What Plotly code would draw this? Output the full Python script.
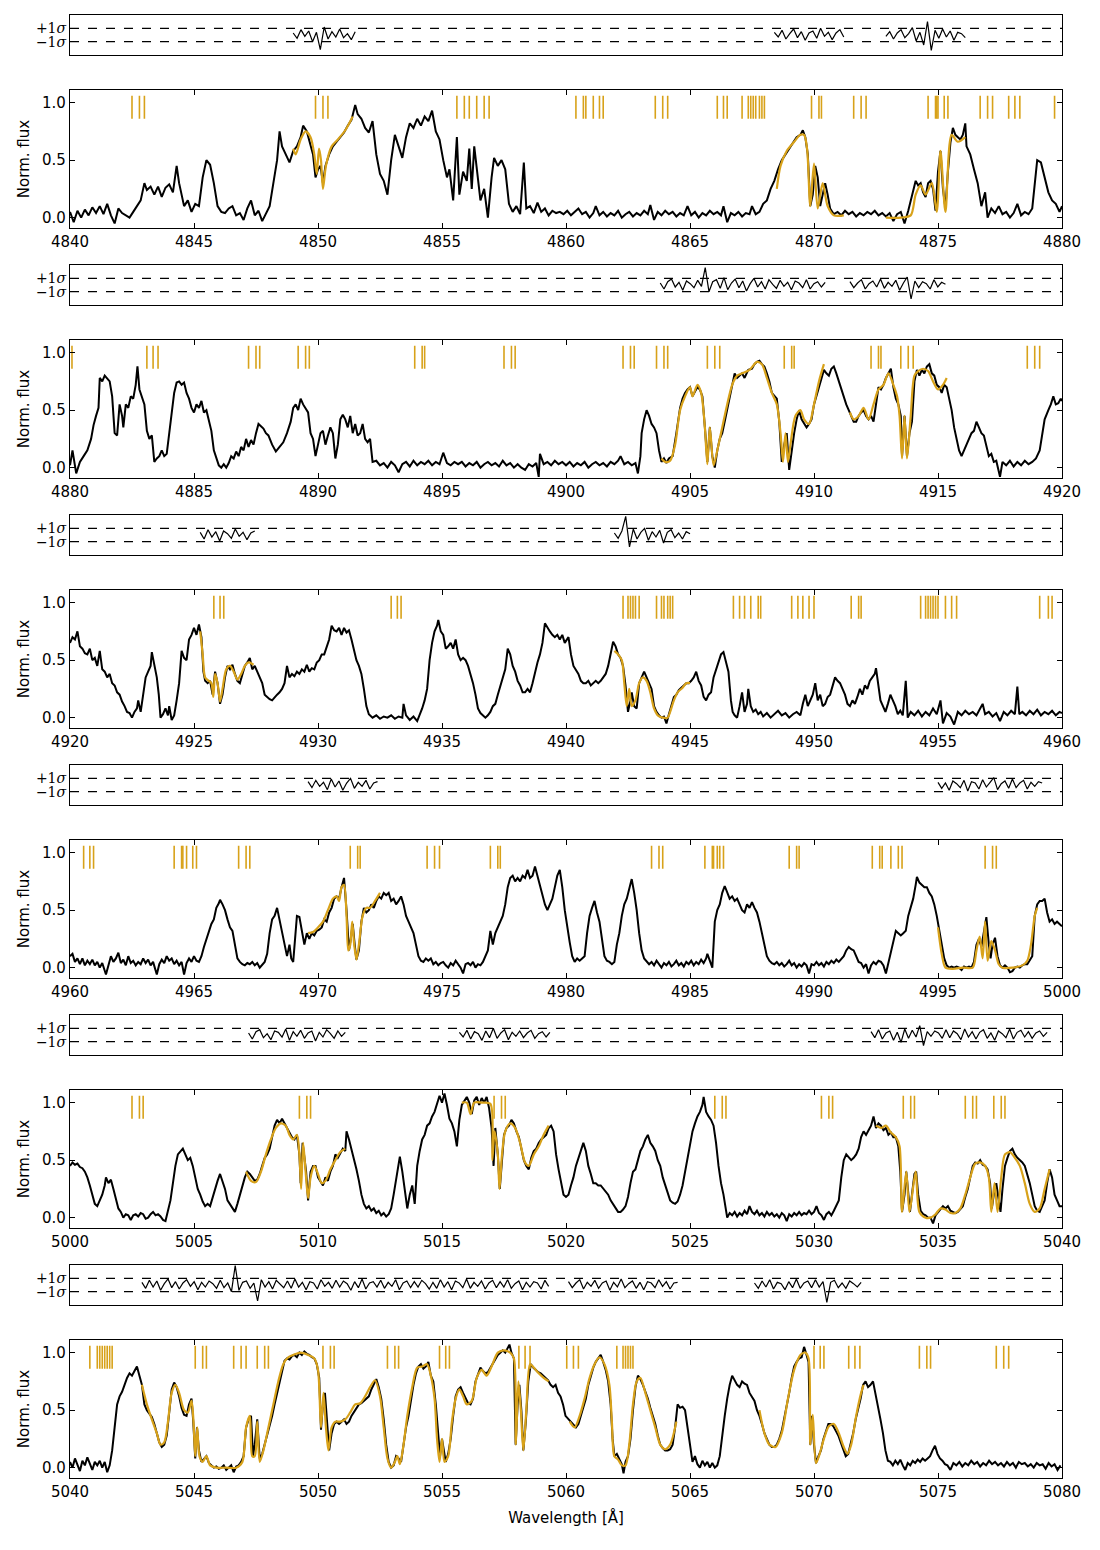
import plotly.graph_objects as go

# ---------------- DATA ----------------
panel_starts = [4840, 4880, 4920, 4960, 5000, 5040]
flux_ticks = [0.0, 0.5, 1.0]

spec_p1 = [(4840.0,0.05),(4840.15,-0.04),(4840.3,0.06),(4840.45,0.0),(4840.6,0.07),(4840.75,0.02),(4840.9,0.09),(4841.05,0.04),(4841.2,0.1),(4841.35,0.03),(4841.5,0.12),(4841.65,0.02),(4841.8,-0.05),(4841.95,0.08),(4842.1,0.04),(4842.25,0.02),(4842.4,0.0),(4842.55,0.05),(4842.7,0.1),(4842.85,0.15),(4843.0,0.3),(4843.1,0.24),(4843.25,0.27),(4843.4,0.2),(4843.55,0.27),(4843.7,0.18),(4843.85,0.26),(4844.0,0.29),(4844.15,0.22),(4844.3,0.45),(4844.4,0.3),(4844.5,0.2),(4844.6,0.1),(4844.75,0.15),(4844.9,0.05),(4845.05,0.12),(4845.2,0.1),(4845.35,0.35),(4845.5,0.5),(4845.65,0.46),(4845.8,0.3),(4845.95,0.1),(4846.1,0.05),(4846.25,0.04),(4846.4,0.08),(4846.55,0.1),(4846.7,0.02),(4846.85,0.04),(4847.0,-0.02),(4847.15,0.08),(4847.3,0.15),(4847.45,0.02),(4847.6,0.06),(4847.75,-0.03),(4847.9,0.04),(4848.05,0.1),(4848.2,0.3),(4848.35,0.5),(4848.45,0.75),(4848.55,0.62),(4848.7,0.55),(4848.85,0.48),(4849.0,0.58),(4849.15,0.62),(4849.3,0.7),(4849.4,0.8),(4849.55,0.75),(4849.7,0.62),(4849.8,0.55),(4849.9,0.35),(4850.0,0.42),(4850.1,0.45),(4850.2,0.3),(4850.3,0.45),(4850.45,0.55),(4850.6,0.62),(4850.75,0.66),(4850.9,0.7),(4851.05,0.74),(4851.2,0.8),(4851.35,0.85),(4851.5,0.98),(4851.6,0.9),(4851.75,0.86),(4851.9,0.78),(4852.05,0.74),(4852.2,0.84),(4852.35,0.55),(4852.5,0.38),(4852.65,0.32),(4852.8,0.2),(4852.95,0.5),(4853.1,0.72),(4853.25,0.62),(4853.4,0.52),(4853.55,0.7),(4853.7,0.82),(4853.85,0.78),(4854.0,0.86),(4854.15,0.8),(4854.3,0.88),(4854.45,0.84),(4854.6,0.93),(4854.75,0.75),(4854.9,0.68),(4855.05,0.5),(4855.2,0.35),(4855.3,0.42),(4855.45,0.15),(4855.6,0.7),(4855.7,0.2),(4855.85,0.4),(4856.0,0.32),(4856.1,0.6),(4856.2,0.25),(4856.3,0.62),(4856.45,0.3),(4856.55,0.15),(4856.7,0.25),(4856.85,0.0),(4857.0,0.35),(4857.1,0.52),(4857.25,0.45),(4857.4,0.5),(4857.55,0.42),(4857.7,0.12),(4857.85,0.05),(4858.0,0.1),(4858.15,0.03),(4858.3,0.48),(4858.4,0.08),(4858.55,0.1),(4858.7,0.04),(4858.85,0.13),(4859.0,0.05),(4859.15,0.08),(4859.3,0.02),(4859.45,0.06),(4859.6,0.04),(4859.75,0.05),(4859.9,0.03),
(4860.05,0.06),(4860.2,0.02),(4860.35,0.05),(4860.5,0.08),(4860.65,0.03),(4860.8,0.05),(4860.95,0.0),(4861.1,0.04),(4861.2,0.1),(4861.35,0.02),(4861.5,0.05),(4861.65,0.01),(4861.8,0.04),(4861.95,0.02),(4862.1,0.06),(4862.25,0.0),(4862.4,0.03),(4862.55,0.05),(4862.7,0.01),(4862.85,0.04),(4863.0,0.02),(4863.15,0.06),(4863.3,0.03),(4863.4,0.11),(4863.55,-0.02),(4863.7,0.05),(4863.85,0.02),(4864.0,0.06),(4864.15,0.03),(4864.3,0.05),(4864.45,0.01),(4864.6,0.04),(4864.75,0.02),(4864.9,0.1),(4865.05,0.02),(4865.2,0.05),(4865.35,0.0),(4865.5,0.04),(4865.65,0.02),(4865.8,0.06),(4865.95,0.03),(4866.1,0.05),(4866.25,0.02),(4866.35,0.1),(4866.5,-0.04),(4866.65,0.04),(4866.8,0.02),(4866.95,0.05),(4867.1,0.01),(4867.25,0.04),(4867.4,0.03),(4867.5,0.1),(4867.65,0.03),(4867.8,0.05),(4867.95,0.12),(4868.1,0.15),(4868.25,0.25),(4868.4,0.32),(4868.55,0.42),(4868.7,0.5),(4868.85,0.55),(4869.0,0.6),(4869.15,0.64),(4869.3,0.7),(4869.45,0.72),(4869.55,0.76),(4869.65,0.7),(4869.75,0.55),(4869.85,0.1),(4869.95,0.2),(4870.05,0.45),(4870.15,0.35),(4870.25,0.1),(4870.35,0.2),(4870.45,0.3),(4870.55,0.2),(4870.65,0.08),(4870.8,0.03),(4870.95,0.05),(4871.1,0.02),(4871.25,0.06),(4871.4,0.03),(4871.55,0.05),(4871.7,0.01),(4871.85,0.04),(4872.0,0.02),(4872.15,0.05),(4872.3,0.03),(4872.45,0.06),(4872.6,0.02),(4872.75,0.04),(4872.9,0.01),(4873.05,0.04),(4873.2,-0.03),(4873.35,0.03),(4873.5,0.05),(4873.65,-0.05),(4873.8,0.06),(4873.9,0.15),(4874.0,0.25),(4874.1,0.32),(4874.2,0.28),(4874.3,0.3),(4874.4,0.22),(4874.5,0.18),(4874.6,0.3),(4874.7,0.32),(4874.8,0.25),(4874.9,0.06),(4875.0,0.4),(4875.1,0.58),(4875.2,0.25),(4875.3,0.08),(4875.4,0.4),(4875.5,0.65),(4875.6,0.78),(4875.7,0.72),(4875.8,0.7),(4875.9,0.68),(4876.0,0.72),(4876.1,0.82),(4876.15,0.62),(4876.3,0.55),(4876.45,0.42),(4876.6,0.3),(4876.75,0.1),(4876.9,0.22),(4877.0,0.0),(4877.15,0.08),(4877.3,0.04),(4877.45,0.1),(4877.6,0.03),(4877.75,0.05),(4877.9,0.0),(4878.05,0.04),(4878.2,0.12),(4878.35,0.02),(4878.5,0.05),(4878.65,0.03),(4878.8,0.08),(4878.9,0.3),(4879.0,0.5),(4879.15,0.48),(4879.3,0.35),(4879.45,0.22),(4879.6,0.15),(4879.75,0.12),(4879.9,0.05),(4880.0,0.1)]

spec_p2 = [(4880.0,0.02),(4880.1,0.15),(4880.25,-0.05),(4880.4,0.05),(4880.55,0.1),(4880.7,0.15),(4880.85,0.25),(4880.95,0.37),(4881.05,0.45),(4881.15,0.52),(4881.2,0.78),(4881.3,0.75),(4881.4,0.8),(4881.5,0.77),(4881.6,0.75),(4881.7,0.62),(4881.8,0.3),(4881.9,0.28),(4882.0,0.55),(4882.1,0.45),(4882.15,0.35),(4882.25,0.55),(4882.35,0.52),(4882.45,0.62),(4882.55,0.6),(4882.65,0.72),(4882.72,0.88),(4882.8,0.68),(4882.9,0.62),(4883.0,0.55),(4883.1,0.32),(4883.2,0.25),(4883.3,0.28),(4883.4,0.05),(4883.5,0.08),(4883.6,0.1),(4883.7,0.15),(4883.8,0.1),(4883.9,0.12),(4884.0,0.3),(4884.1,0.5),(4884.2,0.65),(4884.3,0.74),(4884.4,0.75),(4884.5,0.72),(4884.6,0.74),(4884.7,0.65),(4884.8,0.6),(4884.9,0.52),(4885.0,0.48),(4885.1,0.55),(4885.2,0.52),(4885.3,0.58),(4885.4,0.48),(4885.5,0.5),(4885.6,0.4),(4885.7,0.32),(4885.8,0.15),(4885.9,0.08),(4886.0,0.02),(4886.1,0.0),(4886.2,0.03),(4886.3,0.0),(4886.4,0.04),(4886.5,0.1),(4886.6,0.08),(4886.7,0.14),(4886.8,0.1),(4886.9,0.18),(4887.0,0.15),(4887.1,0.25),(4887.2,0.18),(4887.3,0.24),(4887.4,0.2),(4887.5,0.3),(4887.6,0.38),(4887.7,0.36),(4887.8,0.34),(4887.9,0.3),(4888.0,0.28),(4888.15,0.2),(4888.3,0.14),(4888.45,0.18),(4888.6,0.22),(4888.75,0.3),(4888.9,0.4),(4889.0,0.52),(4889.1,0.55),(4889.2,0.5),(4889.3,0.6),(4889.4,0.55),(4889.5,0.52),(4889.6,0.48),(4889.7,0.3),(4889.8,0.25),(4889.9,0.1),(4890.0,0.2),(4890.1,0.3),(4890.2,0.32),(4890.3,0.2),(4890.4,0.28),(4890.5,0.35),(4890.6,0.3),(4890.7,0.08),(4890.8,0.2),(4890.9,0.42),(4891.0,0.46),(4891.1,0.42),(4891.2,0.35),(4891.3,0.45),(4891.4,0.3),(4891.5,0.38),(4891.6,0.28),(4891.7,0.3),(4891.8,0.38),(4891.9,0.25),(4892.0,0.22),(4892.1,0.25),(4892.2,0.05),(4892.35,0.06),(4892.5,0.02),(4892.65,0.04),(4892.8,0.0),(4892.95,0.05),(4893.1,0.02),(4893.25,-0.04),(4893.4,0.03),(4893.55,0.05),(4893.7,0.01),(4893.85,0.06),(4894.0,0.02),(4894.15,0.05),(4894.3,0.03),(4894.45,0.06),(4894.6,0.02),(4894.75,0.05),(4894.9,0.03),(4895.05,0.13),(4895.2,0.04),(4895.35,0.02),(4895.5,0.05),(4895.65,0.03),(4895.8,0.05),(4895.95,0.01),(4896.1,0.04),(4896.25,0.02),(4896.4,0.05),(4896.55,0.0),(4896.7,0.03),(4896.85,0.05),(4897.0,0.02),(4897.15,0.04),(4897.3,0.01),(4897.45,0.06),(4897.6,0.02),(4897.75,0.04),(4897.9,0.0),(4898.05,0.03),(4898.2,0.0),(4898.35,-0.02),(4898.5,0.03),(4898.65,0.01),(4898.8,0.04),(4898.9,-0.08),(4898.95,0.12),(4899.1,0.03),(4899.25,0.05),(4899.4,0.02),(4899.55,0.06),(4899.7,0.03),(4899.85,0.05),(4900.0,0.02),(4900.15,0.05),(4900.3,0.01),(4900.45,0.04),(4900.6,0.02),(4900.75,0.05),(4900.9,0.0),(4901.05,0.03),(4901.2,0.05),(4901.35,0.02),(4901.5,0.04),(4901.65,0.01),(4901.8,0.05),(4901.95,0.03),(4902.1,0.06),(4902.2,0.1),(4902.35,0.03),(4902.5,0.05),(4902.65,0.02),(4902.8,0.04),(4902.9,-0.05),(4903.0,0.1),(4903.05,0.3),(4903.15,0.42),(4903.25,0.5),(4903.35,0.45),(4903.45,0.38),(4903.55,0.35),(4903.65,0.3),(4903.75,0.15),(4903.85,0.05),(4903.95,0.08),(4904.05,0.04),(4904.15,0.08),(4904.3,0.1),(4904.45,0.3),(4904.6,0.52),(4904.7,0.6),(4904.8,0.65),(4904.9,0.68),(4905.0,0.7),(4905.1,0.62),(4905.2,0.66),(4905.3,0.7),(4905.4,0.68),(4905.5,0.62),(4905.6,0.35),(4905.7,0.05),(4905.8,0.35),(4905.9,0.1),(4906.0,0.0),(4906.1,0.15),(4906.2,0.25),(4906.3,0.3),(4906.4,0.4),(4906.5,0.5),(4906.6,0.6),(4906.7,0.72),(4906.8,0.82),(4906.9,0.78),(4907.0,0.8),(4907.1,0.82),(4907.2,0.78),(4907.35,0.85),(4907.5,0.86),(4907.6,0.9),(4907.7,0.92),(4907.8,0.93),(4907.9,0.9),(4908.0,0.88),(4908.1,0.82),(4908.2,0.75),(4908.3,0.65),(4908.4,0.62),(4908.5,0.6),(4908.6,0.4),(4908.7,0.05),(4908.8,0.2),(4908.9,0.3),(4909.0,-0.02),(4909.1,0.15),(4909.2,0.3),(4909.3,0.42),(4909.4,0.5),(4909.5,0.42),(4909.6,0.38),(4909.7,0.35),(4909.8,0.38),(4909.9,0.42),(4910.0,0.55),(4910.1,0.62),(4910.2,0.7),(4910.3,0.78),(4910.4,0.85),(4910.5,0.82),(4910.6,0.8),(4910.7,0.86),(4910.8,0.88),(4910.9,0.82),(4911.0,0.75),(4911.1,0.7),(4911.2,0.62),(4911.3,0.55),(4911.4,0.5),(4911.5,0.45),(4911.6,0.4),(4911.7,0.4),(4911.8,0.45),(4911.9,0.48),(4912.0,0.5),(4912.1,0.45),(4912.2,0.42),(4912.3,0.45),(4912.4,0.4),(4912.5,0.55),(4912.6,0.7),(4912.7,0.68),(4912.8,0.72),(4912.9,0.78),(4913.0,0.82),(4913.1,0.86),(4913.2,0.7),(4913.3,0.6),(4913.4,0.55),(4913.5,0.45),(4913.55,0.1),(4913.65,0.45),(4913.75,0.1),(4913.85,0.3),(4913.95,0.4),(4914.05,0.75),(4914.15,0.85),(4914.25,0.8),(4914.35,0.85),(4914.45,0.82),(4914.55,0.88),(4914.65,0.9),(4914.75,0.82),(4914.85,0.8),(4914.95,0.72),(4915.05,0.7),(4915.15,0.65),(4915.25,0.72),(4915.35,0.7),(4915.45,0.6),(4915.55,0.5),(4915.65,0.35),(4915.75,0.25),(4915.85,0.15),(4915.95,0.1),(4916.05,0.15),(4916.15,0.2),(4916.25,0.25),(4916.35,0.3),(4916.45,0.32),(4916.55,0.4),(4916.65,0.35),(4916.75,0.3),(4916.85,0.28),(4916.95,0.2),(4917.05,0.1),(4917.15,0.12),(4917.25,0.05),(4917.35,0.06),(4917.5,-0.08),(4917.6,0.05),(4917.75,0.02),(4917.9,0.06),(4918.05,0.01),(4918.2,0.05),(4918.35,0.02),(4918.5,0.06),(4918.65,0.03),(4918.8,0.05),(4918.95,0.08),(4919.1,0.15),(4919.2,0.3),(4919.3,0.42),(4919.45,0.5),(4919.55,0.55),(4919.65,0.62),(4919.75,0.55),(4919.85,0.56),(4919.95,0.6),(4920.0,0.58)]

spec_p3 = [(4920.0,0.65),(4920.1,0.7),(4920.2,0.68),(4920.3,0.75),(4920.4,0.62),(4920.5,0.6),(4920.6,0.56),(4920.7,0.55),(4920.8,0.6),(4920.9,0.5),(4921.0,0.52),(4921.1,0.45),(4921.2,0.58),(4921.3,0.42),(4921.4,0.4),(4921.5,0.35),(4921.6,0.38),(4921.7,0.3),(4921.8,0.28),(4921.9,0.22),(4922.0,0.2),(4922.1,0.14),(4922.2,0.1),(4922.3,0.05),(4922.4,0.04),(4922.5,0.0),(4922.6,0.05),(4922.7,0.08),(4922.75,0.15),(4922.85,0.05),(4922.95,0.2),(4923.05,0.35),(4923.15,0.4),(4923.25,0.45),(4923.3,0.57),(4923.4,0.45),(4923.5,0.35),(4923.58,0.2),(4923.65,0.0),(4923.75,0.03),(4923.85,0.08),(4923.95,0.02),(4924.0,0.1),(4924.1,-0.02),(4924.2,0.02),(4924.3,0.15),(4924.4,0.3),(4924.5,0.58),(4924.6,0.52),(4924.7,0.5),(4924.8,0.68),(4924.9,0.72),(4925.0,0.78),(4925.1,0.72),(4925.2,0.81),(4925.3,0.7),(4925.38,0.4),(4925.45,0.32),(4925.55,0.3),(4925.65,0.32),(4925.75,0.2),(4925.85,0.4),(4925.95,0.3),(4926.05,0.12),(4926.15,0.2),(4926.25,0.35),(4926.35,0.45),(4926.45,0.42),(4926.55,0.46),(4926.65,0.38),(4926.75,0.32),(4926.85,0.3),(4926.95,0.38),(4927.05,0.45),(4927.15,0.48),(4927.25,0.52),(4927.35,0.42),(4927.45,0.45),(4927.55,0.4),(4927.65,0.35),(4927.75,0.3),(4927.85,0.2),(4927.95,0.18),(4928.05,0.16),(4928.15,0.15),(4928.25,0.18),(4928.35,0.2),(4928.45,0.22),(4928.55,0.25),(4928.65,0.3),(4928.75,0.45),(4928.85,0.35),(4928.95,0.38),(4929.05,0.36),(4929.15,0.4),(4929.25,0.38),(4929.35,0.42),(4929.45,0.4),(4929.55,0.46),(4929.65,0.4),(4929.75,0.43),(4929.85,0.42),(4929.95,0.48),(4930.05,0.5),(4930.15,0.55),(4930.25,0.55),(4930.35,0.62),(4930.45,0.68),(4930.55,0.8),(4930.65,0.76),(4930.75,0.75),(4930.85,0.78),(4930.95,0.72),(4931.05,0.78),(4931.15,0.74),(4931.25,0.76),(4931.35,0.68),(4931.45,0.58),(4931.55,0.5),(4931.65,0.45),(4931.75,0.38),(4931.85,0.25),(4931.95,0.1),(4932.05,0.03),(4932.2,0.0),(4932.35,0.02),(4932.5,-0.01),(4932.65,0.01),(4932.8,0.0),(4932.95,0.02),(4933.1,-0.01),(4933.25,0.01),(4933.4,0.0),(4933.45,0.12),(4933.55,0.02),(4933.7,-0.02),(4933.85,0.01),(4934.0,-0.03),(4934.1,0.02),(4934.2,0.08),(4934.3,0.15),(4934.4,0.25),(4934.5,0.5),(4934.6,0.65),(4934.7,0.75),(4934.8,0.8),(4934.85,0.85),(4934.95,0.75),(4935.05,0.72),(4935.15,0.6),(4935.25,0.62),(4935.35,0.65),(4935.45,0.6),(4935.55,0.68),(4935.65,0.55),(4935.75,0.5),(4935.85,0.52),(4935.95,0.5),(4936.05,0.45),(4936.15,0.38),(4936.25,0.3),(4936.35,0.2),(4936.45,0.08),(4936.55,0.04),(4936.65,0.02),(4936.75,0.0),(4936.85,0.02),(4936.95,0.05),(4937.05,0.1),(4937.15,0.12),(4937.25,0.2),(4937.35,0.28),(4937.45,0.35),(4937.55,0.42),(4937.65,0.6),(4937.75,0.55),(4937.85,0.45),(4937.95,0.4),(4938.05,0.32),(4938.15,0.28),(4938.25,0.22),(4938.35,0.22),(4938.45,0.25),(4938.55,0.22),(4938.65,0.3),(4938.75,0.4),(4938.85,0.48),(4938.95,0.55),(4939.05,0.65),(4939.15,0.82),(4939.25,0.78),(4939.35,0.75),(4939.45,0.72),(4939.55,0.7),(4939.65,0.72),(4939.75,0.68),(4939.85,0.72),(4939.95,0.65),(4940.1,0.7),(4940.2,0.55),(4940.3,0.45),(4940.4,0.42),(4940.5,0.38),(4940.6,0.32),(4940.7,0.3),(4940.8,0.3),(4940.9,0.32),(4941.0,0.28),(4941.1,0.3),(4941.2,0.32),(4941.3,0.3),(4941.4,0.32),(4941.5,0.35),(4941.6,0.38),(4941.7,0.45),(4941.8,0.55),(4941.9,0.66),(4942.0,0.62),(4942.1,0.55),(4942.2,0.52),(4942.3,0.45),(4942.4,0.28),(4942.5,0.05),(4942.6,0.15),(4942.65,0.22),(4942.75,0.1),(4942.85,0.08),(4942.95,0.3),(4943.05,0.35),(4943.15,0.4),(4943.25,0.35),(4943.35,0.3),(4943.45,0.25),(4943.55,0.1),(4943.65,0.05),(4943.75,0.02),(4943.85,0.0),(4943.95,0.01),(4944.05,-0.05),(4944.15,0.03),(4944.25,0.1),(4944.35,0.18),(4944.45,0.2),(4944.55,0.24),(4944.65,0.26),(4944.75,0.28),(4944.85,0.3),(4944.95,0.3),(4945.05,0.32),(4945.15,0.35),(4945.25,0.4),(4945.35,0.32),(4945.45,0.28),(4945.55,0.18),(4945.65,0.15),(4945.75,0.2),(4945.85,0.22),(4945.95,0.35),(4946.05,0.42),(4946.15,0.5),(4946.25,0.55),(4946.35,0.57),(4946.45,0.48),(4946.55,0.4),(4946.65,0.15),(4946.72,0.05),(4946.8,0.02),(4946.9,0.0),(4947.0,0.1),(4947.1,0.22),(4947.2,0.05),(4947.3,0.12),(4947.35,0.25),(4947.45,0.1),(4947.55,0.05),(4947.65,0.07),(4947.75,0.03),(4947.85,0.05),(4947.95,0.01),(4948.1,0.04),(4948.25,0.0),(4948.4,0.03),(4948.55,0.06),(4948.7,0.02),(4948.85,0.04),(4949.0,0.0),(4949.15,0.03),(4949.3,0.05),(4949.45,0.02),(4949.55,0.12),(4949.65,0.2),(4949.75,0.1),(4949.85,0.15),(4949.95,0.2),(4950.05,0.3),(4950.15,0.15),(4950.25,0.2),(4950.35,0.1),(4950.45,0.12),(4950.55,0.18),(4950.65,0.2),(4950.75,0.28),(4950.85,0.35),(4950.95,0.32),(4951.05,0.3),(4951.15,0.25),(4951.25,0.2),(4951.35,0.12),(4951.45,0.1),(4951.55,0.15),(4951.65,0.12),(4951.75,0.18),(4951.85,0.25),(4951.95,0.2),(4952.05,0.28),(4952.15,0.25),(4952.25,0.32),(4952.35,0.35),(4952.45,0.38),(4952.5,0.43),(4952.6,0.25),(4952.68,0.15),(4952.78,0.1),(4952.88,0.05),(4952.98,0.12),(4953.08,0.2),(4953.18,0.15),(4953.28,0.1),(4953.38,0.03),(4953.48,0.06),(4953.58,0.02),(4953.7,0.32),(4953.78,0.0),(4953.9,0.05),(4954.05,0.02),(4954.2,0.06),(4954.35,0.01),(4954.5,0.05),(4954.65,0.02),(4954.8,0.08),(4954.95,0.03),(4955.1,0.15),(4955.2,-0.05),(4955.35,0.04),(4955.5,0.01),(4955.65,-0.06),(4955.8,0.05),(4955.95,0.02),(4956.1,0.06),(4956.25,0.03),(4956.4,0.05),(4956.55,0.02),(4956.7,0.08),(4956.8,0.12),(4956.9,0.03),(4957.05,0.05),(4957.2,0.01),(4957.35,0.04),(4957.5,-0.03),(4957.65,0.05),(4957.8,0.02),(4957.95,0.06),(4958.1,0.03),(4958.2,0.27),(4958.28,0.03),(4958.4,0.05),(4958.55,0.02),(4958.7,0.06),(4958.85,0.03),(4959.0,0.07),(4959.15,0.02),(4959.3,0.05),(4959.45,0.03),(4959.6,0.06),(4959.75,0.02),(4959.9,0.05),(4960.0,0.04)]

spec_p4 = [(4960.0,0.1),(4960.1,0.12),(4960.2,0.05),(4960.3,0.08),(4960.4,0.03),(4960.5,0.08),(4960.6,0.02),(4960.7,0.06),(4960.8,0.03),(4960.9,0.07),(4961.0,0.02),(4961.1,0.05),(4961.2,0.0),(4961.3,0.04),(4961.45,-0.06),(4961.55,0.03),(4961.65,0.1),(4961.75,0.05),(4961.85,0.08),(4961.95,0.13),(4962.05,0.04),(4962.15,0.07),(4962.25,0.02),(4962.35,0.1),(4962.45,0.04),(4962.55,0.06),(4962.65,0.02),(4962.75,0.05),(4962.85,0.03),(4962.95,0.08),(4963.05,0.04),(4963.15,0.07),(4963.25,0.02),(4963.35,0.05),(4963.5,-0.06),(4963.6,0.03),(4963.7,0.07),(4963.8,0.04),(4963.9,0.1),(4964.0,0.06),(4964.1,0.08),(4964.2,0.03),(4964.3,0.06),(4964.4,0.02),(4964.5,0.05),(4964.6,-0.06),(4964.7,0.04),(4964.8,0.08),(4964.9,0.05),(4965.0,0.1),(4965.1,0.06),(4965.2,0.05),(4965.3,0.1),(4965.4,0.18),(4965.5,0.25),(4965.6,0.3),(4965.7,0.38),(4965.8,0.42),(4965.9,0.52),(4966.0,0.56),(4966.05,0.59),(4966.15,0.55),(4966.25,0.5),(4966.35,0.42),(4966.45,0.35),(4966.55,0.32),(4966.65,0.2),(4966.75,0.08),(4966.85,0.05),(4966.95,0.03),(4967.05,0.02),(4967.15,0.04),(4967.25,0.03),(4967.35,0.05),(4967.45,0.02),(4967.55,0.04),(4967.65,0.0),(4967.75,0.03),(4967.85,0.05),(4967.95,0.12),(4968.05,0.3),(4968.15,0.42),(4968.25,0.45),(4968.35,0.52),(4968.45,0.42),(4968.55,0.3),(4968.65,0.2),(4968.75,0.1),(4968.85,0.2),(4968.92,0.08),(4969.0,0.05),(4969.1,0.35),(4969.15,0.45),(4969.25,0.44),(4969.35,0.3),(4969.45,0.2),(4969.55,0.3),(4969.65,0.25),(4969.75,0.3),(4969.85,0.28),(4969.95,0.32),(4970.05,0.33),(4970.15,0.35),(4970.25,0.42),(4970.35,0.4),(4970.45,0.48),(4970.55,0.52),(4970.65,0.6),(4970.75,0.62),(4970.85,0.6),(4970.95,0.7),(4971.05,0.78),(4971.15,0.5),(4971.25,0.15),(4971.32,0.25),(4971.4,0.38),(4971.48,0.2),(4971.55,0.07),(4971.65,0.15),(4971.75,0.4),(4971.85,0.52),(4971.95,0.48),(4972.05,0.5),(4972.15,0.55),(4972.25,0.52),(4972.35,0.58),(4972.45,0.62),(4972.55,0.6),(4972.65,0.65),(4972.75,0.63),(4972.85,0.65),(4972.95,0.58),(4973.05,0.6),(4973.15,0.55),(4973.25,0.58),(4973.35,0.62),(4973.45,0.55),(4973.55,0.45),(4973.65,0.4),(4973.75,0.35),(4973.85,0.3),(4973.95,0.2),(4974.05,0.1),(4974.15,0.06),(4974.25,0.05),(4974.35,0.08),(4974.45,0.06),(4974.55,0.08),(4974.65,0.03),(4974.75,0.05),(4974.85,0.02),(4974.95,0.04),(4975.05,0.05),(4975.15,0.02),(4975.25,0.0),(4975.35,0.04),(4975.45,0.02),(4975.55,0.06),(4975.65,0.03),(4975.75,0.0),(4975.85,-0.05),(4975.95,0.03),(4976.05,0.04),(4976.15,0.02),(4976.25,0.05),(4976.35,0.0),(4976.45,0.03),(4976.55,0.02),(4976.65,0.05),(4976.75,0.1),(4976.85,0.15),(4976.95,0.32),(4977.05,0.2),(4977.15,0.3),(4977.25,0.35),(4977.35,0.4),(4977.45,0.45),(4977.55,0.55),(4977.65,0.7),(4977.75,0.78),(4977.85,0.8),(4977.95,0.75),(4978.05,0.78),(4978.15,0.75),(4978.25,0.8),(4978.35,0.78),(4978.45,0.85),(4978.55,0.78),(4978.65,0.8),(4978.75,0.88),(4978.85,0.8),(4978.95,0.7),(4979.05,0.62),(4979.15,0.55),(4979.25,0.5),(4979.35,0.55),(4979.45,0.6),(4979.55,0.7),(4979.65,0.8),(4979.75,0.85),(4979.85,0.7),(4979.95,0.5),(4980.05,0.35),(4980.15,0.22),(4980.25,0.1),(4980.35,0.05),(4980.45,0.08),(4980.55,0.06),(4980.65,0.08),(4980.75,0.1),(4980.85,0.3),(4980.95,0.45),(4981.05,0.52),(4981.15,0.58),(4981.25,0.48),(4981.35,0.4),(4981.45,0.25),(4981.55,0.1),(4981.65,0.06),(4981.75,0.05),(4981.85,0.03),(4981.95,0.05),(4982.05,0.2),(4982.15,0.3),(4982.25,0.45),(4982.35,0.55),(4982.45,0.6),(4982.55,0.68),(4982.65,0.77),(4982.75,0.65),(4982.85,0.5),(4982.95,0.3),(4983.05,0.15),(4983.15,0.08),(4983.25,0.05),(4983.35,0.03),(4983.45,0.05),(4983.55,0.02),(4983.65,0.06),(4983.75,0.03),(4983.85,0.0),(4983.95,0.04),(4984.05,0.02),(4984.15,0.05),(4984.25,0.01),(4984.35,0.03),(4984.45,0.06),(4984.55,0.02),(4984.65,0.04),(4984.75,0.01),(4984.85,0.05),(4984.95,0.03),(4985.05,0.06),(4985.15,0.02),(4985.25,0.05),(4985.35,0.03),(4985.45,0.07),(4985.55,0.04),(4985.65,0.08),(4985.7,0.12),(4985.8,0.05),(4985.9,0.0),(4986.0,0.4),(4986.1,0.5),(4986.2,0.55),(4986.3,0.65),(4986.4,0.71),(4986.5,0.65),(4986.6,0.6),(4986.7,0.62),(4986.8,0.58),(4986.9,0.6),(4987.0,0.55),(4987.1,0.5),(4987.2,0.48),(4987.3,0.55),(4987.4,0.52),(4987.5,0.57),(4987.6,0.52),(4987.7,0.48),(4987.8,0.4),(4987.9,0.3),(4988.0,0.2),(4988.1,0.1),(4988.2,0.06),(4988.3,0.04),(4988.4,0.03),(4988.5,0.05),(4988.6,0.02),(4988.7,0.04),(4988.8,0.01),(4988.9,0.03),(4989.0,0.06),(4989.1,0.02),(4989.2,0.04),(4989.3,0.0),(4989.4,0.03),(4989.5,0.01),(4989.6,0.04),(4989.7,0.02),(4989.8,-0.05),(4989.9,0.03),(4990.0,0.02),(4990.1,0.05),(4990.2,0.02),(4990.3,0.04),(4990.4,0.01),(4990.5,0.05),(4990.6,0.03),(4990.7,0.06),(4990.8,0.04),(4990.9,0.07),(4991.0,0.05),(4991.1,0.08),(4991.2,0.1),(4991.3,0.15),(4991.4,0.18),(4991.5,0.16),(4991.6,0.15),(4991.7,0.1),(4991.8,0.05),(4991.9,0.04),(4992.0,0.0),(4992.1,0.03),(4992.2,-0.05),(4992.3,0.02),(4992.4,0.05),(4992.5,0.03),(4992.6,0.06),(4992.7,0.05),(4992.8,0.02),(4992.9,-0.05),(4993.0,0.05),(4993.1,0.15),(4993.2,0.25),(4993.3,0.32),(4993.4,0.3),(4993.5,0.28),(4993.6,0.3),(4993.7,0.32),(4993.8,0.45),(4993.9,0.52),(4994.0,0.6),(4994.1,0.72),(4994.15,0.79),(4994.25,0.74),(4994.35,0.72),(4994.45,0.7),(4994.55,0.7),(4994.65,0.65),(4994.75,0.62),(4994.85,0.55),(4994.95,0.45),(4995.05,0.32),(4995.15,0.2),(4995.25,0.08),(4995.35,0.02),(4995.45,0.0),(4995.55,0.01),(4995.65,0.0),(4995.75,0.01),(4995.85,0.0),(4995.95,-0.02),(4996.05,0.01),(4996.15,0.0),(4996.25,0.01),(4996.35,0.0),(4996.45,0.05),(4996.55,0.2),(4996.65,0.25),(4996.75,0.18),(4996.85,0.3),(4996.95,0.44),(4997.05,0.2),(4997.12,0.08),(4997.2,0.2),(4997.3,0.26),(4997.4,0.1),(4997.5,0.02),(4997.6,0.0),(4997.7,0.02),(4997.8,0.0),(4997.9,-0.04),(4998.0,-0.03),(4998.1,0.0),(4998.2,0.01),(4998.3,0.0),(4998.4,0.02),(4998.5,0.03),(4998.6,0.03),(4998.7,0.06),(4998.8,0.1),(4998.9,0.45),(4999.0,0.55),(4999.1,0.58),(4999.2,0.58),(4999.3,0.6),(4999.4,0.48),(4999.5,0.4),(4999.6,0.42),(4999.7,0.38),(4999.8,0.4),(4999.9,0.38),(5000.0,0.36)]

spec_p5 = [(5000.0,0.45),(5000.1,0.48),(5000.2,0.46),(5000.3,0.47),(5000.4,0.44),(5000.5,0.43),(5000.6,0.4),(5000.7,0.35),(5000.8,0.28),(5000.9,0.2),(5001.0,0.12),(5001.1,0.1),(5001.2,0.15),(5001.3,0.2),(5001.4,0.28),(5001.45,0.35),(5001.55,0.3),(5001.65,0.33),(5001.75,0.25),(5001.85,0.15),(5001.95,0.08),(5002.05,0.05),(5002.15,0.0),(5002.25,0.03),(5002.35,0.02),(5002.45,-0.02),(5002.55,0.02),(5002.65,0.03),(5002.75,0.01),(5002.85,0.04),(5002.95,0.03),(5003.05,-0.01),(5003.15,0.0),(5003.25,0.03),(5003.35,0.05),(5003.45,0.02),(5003.55,0.03),(5003.65,0.01),(5003.75,-0.02),(5003.85,-0.03),(5003.95,0.05),(5004.05,0.15),(5004.15,0.3),(5004.25,0.45),(5004.35,0.55),(5004.45,0.58),(5004.55,0.6),(5004.65,0.55),(5004.75,0.5),(5004.85,0.52),(5004.95,0.45),(5005.05,0.35),(5005.15,0.25),(5005.25,0.2),(5005.35,0.14),(5005.45,0.1),(5005.55,0.12),(5005.65,0.1),(5005.75,0.18),(5005.85,0.25),(5005.95,0.32),(5006.05,0.38),(5006.15,0.32),(5006.25,0.25),(5006.35,0.15),(5006.45,0.12),(5006.55,0.08),(5006.65,0.05),(5006.75,0.12),(5006.85,0.2),(5006.95,0.28),(5007.05,0.35),(5007.15,0.4),(5007.25,0.38),(5007.35,0.35),(5007.45,0.32),(5007.55,0.33),(5007.65,0.38),(5007.75,0.45),(5007.85,0.52),(5007.95,0.55),(5008.05,0.6),(5008.15,0.7),(5008.25,0.8),(5008.35,0.85),(5008.45,0.82),(5008.55,0.86),(5008.65,0.82),(5008.75,0.78),(5008.85,0.75),(5008.95,0.7),(5009.05,0.68),(5009.15,0.72),(5009.25,0.55),(5009.3,0.3),(5009.38,0.65),(5009.45,0.5),(5009.52,0.4),(5009.6,0.15),(5009.7,0.4),(5009.8,0.45),(5009.9,0.45),(5010.0,0.35),(5010.1,0.32),(5010.2,0.28),(5010.3,0.35),(5010.4,0.32),(5010.5,0.4),(5010.6,0.45),(5010.7,0.55),(5010.8,0.52),(5010.9,0.56),(5011.0,0.6),(5011.1,0.58),(5011.15,0.75),(5011.25,0.68),(5011.35,0.6),(5011.45,0.5),(5011.55,0.42),(5011.65,0.32),(5011.75,0.2),(5011.85,0.12),(5011.95,0.08),(5012.05,0.1),(5012.15,0.06),(5012.25,0.08),(5012.35,0.04),(5012.45,0.06),(5012.55,0.02),(5012.65,0.04),(5012.75,0.01),(5012.85,0.03),(5012.95,0.08),(5013.05,0.2),(5013.15,0.32),(5013.25,0.45),(5013.3,0.53),(5013.4,0.4),(5013.5,0.25),(5013.6,0.08),(5013.7,0.2),(5013.8,0.28),(5013.9,0.12),(5014.0,0.45),(5014.1,0.58),(5014.2,0.68),(5014.3,0.72),(5014.4,0.8),(5014.5,0.82),(5014.6,0.88),(5014.7,0.92),(5014.8,1.0),(5014.9,1.06),(5015.0,1.0),(5015.1,1.08),(5015.2,0.98),(5015.3,0.86),(5015.4,0.82),(5015.5,0.75),(5015.6,0.62),(5015.7,0.85),(5015.8,0.98),(5015.9,1.02),(5016.0,1.05),(5016.1,1.0),(5016.2,0.9),(5016.3,1.02),(5016.4,1.05),(5016.5,0.98),(5016.6,1.04),(5016.7,1.0),(5016.8,1.05),(5016.9,0.95),(5017.0,0.78),(5017.08,0.45),(5017.15,0.78),(5017.25,0.55),(5017.33,0.25),(5017.42,0.5),(5017.5,0.72),(5017.6,0.78),(5017.7,0.8),(5017.8,0.85),(5017.9,0.82),(5018.0,0.75),(5018.1,0.7),(5018.2,0.6),(5018.3,0.5),(5018.4,0.45),(5018.5,0.42),(5018.6,0.52),(5018.7,0.58),(5018.8,0.6),(5018.9,0.65),(5019.0,0.68),(5019.1,0.7),(5019.2,0.72),(5019.3,0.78),(5019.4,0.8),(5019.5,0.75),(5019.6,0.55),(5019.7,0.42),(5019.8,0.3),(5019.9,0.2),(5020.0,0.18),(5020.1,0.2),(5020.2,0.28),(5020.3,0.35),(5020.4,0.45),(5020.5,0.52),(5020.6,0.6),(5020.7,0.65),(5020.8,0.58),(5020.9,0.45),(5021.0,0.38),(5021.1,0.3),(5021.2,0.3),(5021.3,0.28),(5021.4,0.28),(5021.5,0.25),(5021.6,0.22),(5021.7,0.2),(5021.8,0.15),(5021.9,0.12),(5022.0,0.08),(5022.1,0.05),(5022.2,0.05),(5022.3,0.07),(5022.4,0.1),(5022.5,0.18),(5022.6,0.3),(5022.7,0.4),(5022.8,0.42),(5022.9,0.5),(5023.0,0.58),(5023.1,0.62),(5023.2,0.68),(5023.3,0.72),(5023.4,0.65),(5023.5,0.62),(5023.6,0.58),(5023.7,0.5),(5023.8,0.45),(5023.9,0.35),(5024.0,0.28),(5024.1,0.2),(5024.2,0.15),(5024.3,0.13),(5024.4,0.12),(5024.5,0.14),(5024.6,0.2),(5024.7,0.28),(5024.8,0.4),(5024.9,0.52),(5025.0,0.65),(5025.1,0.75),(5025.2,0.82),(5025.3,0.88),(5025.4,0.92),(5025.5,0.98),(5025.55,1.05),(5025.65,0.92),(5025.75,0.88),(5025.85,0.85),(5025.95,0.8),(5026.05,0.65),(5026.15,0.45),(5026.25,0.3),(5026.35,0.2),(5026.45,0.08),(5026.5,0.0),(5026.6,0.04),(5026.7,0.02),(5026.8,0.05),(5026.9,0.01),(5027.0,0.04),(5027.1,0.02),(5027.2,0.06),(5027.3,0.03),(5027.4,0.1),(5027.5,0.05),(5027.6,0.03),(5027.7,0.06),(5027.8,0.02),(5027.9,0.04),(5028.0,0.01),(5028.1,0.05),(5028.2,0.02),(5028.3,0.04),(5028.4,0.01),(5028.5,0.03),(5028.6,0.0),(5028.7,0.04),(5028.8,0.02),(5028.9,-0.03),(5029.0,0.03),(5029.1,0.01),(5029.2,0.04),(5029.3,0.02),(5029.4,0.05),(5029.5,0.02),(5029.6,0.04),(5029.7,0.03),(5029.8,0.06),(5029.9,0.03),(5030.0,0.05),(5030.1,0.1),(5030.2,0.04),(5030.3,0.02),(5030.4,-0.02),(5030.5,0.03),(5030.6,0.05),(5030.7,0.02),(5030.8,0.06),(5030.9,0.1),(5031.0,0.15),(5031.1,0.35),(5031.2,0.5),(5031.3,0.55),(5031.4,0.52),(5031.5,0.5),(5031.6,0.52),(5031.7,0.55),(5031.8,0.6),(5031.9,0.7),(5032.0,0.75),(5032.1,0.72),(5032.2,0.76),(5032.3,0.8),(5032.4,0.88),(5032.5,0.78),(5032.6,0.82),(5032.7,0.8),(5032.8,0.76),(5032.9,0.78),(5033.0,0.72),(5033.1,0.74),(5033.2,0.7),(5033.3,0.7),(5033.4,0.62),(5033.48,0.4),(5033.55,0.05),(5033.65,0.2),(5033.72,0.4),(5033.8,0.2),(5033.87,0.05),(5033.95,0.2),(5034.05,0.38),(5034.12,0.4),(5034.2,0.2),(5034.3,0.06),(5034.4,0.03),(5034.5,0.02),(5034.6,0.0),(5034.7,0.0),(5034.8,-0.05),(5034.9,0.02),(5035.0,0.05),(5035.1,0.08),(5035.2,0.1),(5035.3,0.08),(5035.4,0.1),(5035.5,0.06),(5035.6,0.05),(5035.7,0.04),(5035.8,0.05),(5035.9,0.08),(5036.0,0.1),(5036.1,0.18),(5036.2,0.25),(5036.3,0.35),(5036.4,0.45),(5036.5,0.48),(5036.6,0.47),(5036.7,0.5),(5036.8,0.46),(5036.9,0.45),(5037.0,0.42),(5037.1,0.3),(5037.17,0.08),(5037.25,0.2),(5037.35,0.3),(5037.45,0.15),(5037.52,0.05),(5037.6,0.25),(5037.7,0.45),(5037.8,0.52),(5037.9,0.58),(5038.0,0.6),(5038.1,0.55),(5038.2,0.52),(5038.3,0.5),(5038.4,0.48),(5038.5,0.45),(5038.6,0.38),(5038.7,0.3),(5038.8,0.2),(5038.9,0.1),(5039.0,0.06),(5039.1,0.05),(5039.2,0.1),(5039.3,0.15),(5039.4,0.3),(5039.5,0.42),(5039.6,0.35),(5039.7,0.2),(5039.8,0.15),(5039.9,0.1),(5040.0,0.1)]

spec_p6 = [(5040.0,0.05),(5040.1,0.0),(5040.2,0.08),(5040.3,0.02),(5040.4,-0.03),(5040.5,0.06),(5040.6,0.02),(5040.7,0.09),(5040.8,0.03),(5040.9,-0.02),(5041.0,0.05),(5041.1,0.02),(5041.2,0.06),(5041.3,0.0),(5041.4,0.05),(5041.5,-0.04),(5041.6,0.02),(5041.7,0.15),(5041.8,0.35),(5041.9,0.55),(5042.0,0.62),(5042.1,0.66),(5042.2,0.72),(5042.3,0.78),(5042.4,0.82),(5042.5,0.8),(5042.6,0.84),(5042.7,0.88),(5042.8,0.8),(5042.9,0.72),(5043.0,0.55),(5043.1,0.5),(5043.2,0.47),(5043.3,0.44),(5043.4,0.38),(5043.5,0.3),(5043.6,0.22),(5043.7,0.18),(5043.8,0.2),(5043.9,0.28),(5044.0,0.5),(5044.1,0.68),(5044.2,0.74),(5044.3,0.7),(5044.4,0.62),(5044.5,0.52),(5044.6,0.46),(5044.7,0.45),(5044.8,0.55),(5044.9,0.6),(5044.97,0.4),(5045.05,0.08),(5045.12,0.35),(5045.2,0.15),(5045.3,0.05),(5045.4,0.08),(5045.5,0.1),(5045.6,0.04),(5045.7,0.02),(5045.8,0.0),(5045.9,0.01),(5046.0,-0.01),(5046.1,0.0),(5046.2,0.02),(5046.3,-0.02),(5046.4,0.0),(5046.5,0.02),(5046.6,-0.04),(5046.7,0.01),(5046.8,0.02),(5046.9,0.05),(5047.0,0.1),(5047.1,0.35),(5047.2,0.42),(5047.3,0.45),(5047.38,0.1),(5047.45,0.2),(5047.55,0.42),(5047.65,0.08),(5047.75,0.12),(5047.85,0.2),(5047.95,0.3),(5048.05,0.38),(5048.15,0.45),(5048.25,0.55),(5048.35,0.65),(5048.45,0.72),(5048.55,0.85),(5048.65,0.93),(5048.75,0.95),(5048.85,0.94),(5048.95,0.97),(5049.05,0.98),(5049.15,0.96),(5049.25,1.0),(5049.35,0.98),(5049.45,1.01),(5049.55,0.99),(5049.65,0.98),(5049.75,0.96),(5049.85,0.95),(5049.95,0.9),(5050.05,0.78),(5050.12,0.33),(5050.2,0.55),(5050.28,0.65),(5050.35,0.4),(5050.45,0.15),(5050.55,0.3),(5050.65,0.38),(5050.75,0.4),(5050.85,0.38),(5050.95,0.4),(5051.05,0.42),(5051.15,0.38),(5051.25,0.4),(5051.35,0.45),(5051.45,0.48),(5051.55,0.52),(5051.65,0.55),(5051.75,0.56),(5051.85,0.58),(5051.95,0.6),(5052.05,0.62),(5052.15,0.68),(5052.25,0.72),(5052.35,0.77),(5052.45,0.7),(5052.55,0.6),(5052.65,0.42),(5052.75,0.2),(5052.85,0.05),(5052.95,0.0),(5053.05,0.02),(5053.15,0.1),(5053.25,0.08),(5053.35,0.05),(5053.45,0.2),(5053.55,0.35),(5053.65,0.45),(5053.75,0.6),(5053.85,0.72),(5053.95,0.82),(5054.05,0.88),(5054.15,0.9),(5054.25,0.86),(5054.35,0.88),(5054.45,0.92),(5054.55,0.8),(5054.65,0.75),(5054.75,0.55),(5054.85,0.3),(5054.92,0.1),(5055.0,0.25),(5055.08,0.15),(5055.15,0.05),(5055.25,0.12),(5055.35,0.25),(5055.45,0.45),(5055.55,0.62),(5055.65,0.68),(5055.75,0.7),(5055.85,0.65),(5055.95,0.6),(5056.05,0.56),(5056.15,0.55),(5056.25,0.6),(5056.35,0.75),(5056.45,0.82),(5056.55,0.87),(5056.65,0.84),(5056.75,0.82),(5056.85,0.83),(5056.95,0.87),(5057.05,0.9),(5057.15,0.95),(5057.25,0.98),(5057.35,1.0),(5057.45,1.02),(5057.55,1.0),(5057.65,1.04),(5057.72,1.07),(5057.8,1.0),(5057.9,0.95),(5057.97,0.2),(5058.05,0.55),(5058.12,0.72),(5058.2,0.5),(5058.28,0.15),(5058.38,0.4),(5058.48,0.75),(5058.58,0.9),(5058.68,0.87),(5058.78,0.85),(5058.88,0.83),(5058.98,0.82),(5059.08,0.8),(5059.18,0.78),(5059.28,0.76),(5059.38,0.72),(5059.48,0.7),(5059.58,0.72),(5059.68,0.65),(5059.78,0.62),(5059.88,0.55),(5059.98,0.45),(5060.1,0.42),(5060.2,0.4),(5060.3,0.38),(5060.4,0.35),(5060.5,0.38),(5060.6,0.45),(5060.7,0.52),(5060.8,0.6),(5060.9,0.72),(5061.0,0.8),(5061.1,0.87),(5061.2,0.92),(5061.3,0.95),(5061.4,0.98),(5061.5,0.92),(5061.6,0.85),(5061.7,0.75),(5061.8,0.55),(5061.88,0.25),(5061.95,0.1),(5062.05,0.12),(5062.15,0.08),(5062.25,0.03),(5062.32,-0.05),(5062.4,0.05),(5062.5,0.1),(5062.6,0.25),(5062.7,0.5),(5062.8,0.7),(5062.9,0.8),(5063.0,0.77),(5063.1,0.72),(5063.2,0.66),(5063.3,0.6),(5063.4,0.52),(5063.5,0.45),(5063.6,0.38),(5063.7,0.28),(5063.8,0.2),(5063.9,0.17),(5064.0,0.15),(5064.1,0.15),(5064.2,0.16),(5064.3,0.2),(5064.4,0.35),(5064.5,0.55),(5064.6,0.52),(5064.7,0.53),(5064.8,0.5),(5064.9,0.35),(5065.0,0.2),(5065.1,0.05),(5065.2,0.1),(5065.3,0.03),(5065.4,0.0),(5065.5,0.06),(5065.6,0.02),(5065.7,0.05),(5065.8,0.0),(5065.9,0.04),(5066.0,0.0),(5066.1,0.02),(5066.2,0.1),(5066.3,0.3),(5066.4,0.45),(5066.5,0.6),(5066.6,0.72),(5066.7,0.8),(5066.8,0.76),(5066.9,0.72),(5067.0,0.7),(5067.1,0.75),(5067.2,0.73),(5067.3,0.72),(5067.4,0.65),(5067.5,0.62),(5067.6,0.58),(5067.7,0.5),(5067.8,0.45),(5067.9,0.38),(5068.0,0.3),(5068.1,0.25),(5068.2,0.2),(5068.3,0.18),(5068.4,0.18),(5068.5,0.2),(5068.6,0.25),(5068.7,0.32),(5068.8,0.42),(5068.9,0.52),(5069.0,0.65),(5069.1,0.78),(5069.2,0.88),(5069.3,0.92),(5069.4,0.95),(5069.5,0.96),(5069.6,1.05),(5069.7,0.98),(5069.78,0.92),(5069.85,0.2),(5069.92,0.45),(5070.0,0.2),(5070.08,0.04),(5070.18,0.1),(5070.28,0.15),(5070.38,0.25),(5070.48,0.32),(5070.58,0.38),(5070.68,0.38),(5070.78,0.36),(5070.88,0.32),(5070.98,0.28),(5071.08,0.22),(5071.18,0.15),(5071.28,0.1),(5071.38,0.12),(5071.48,0.2),(5071.58,0.3),(5071.68,0.42),(5071.78,0.5),(5071.88,0.6),(5071.98,0.72),(5072.08,0.75),(5072.18,0.7),(5072.28,0.72),(5072.38,0.75),(5072.48,0.65),(5072.58,0.55),(5072.68,0.42),(5072.78,0.3),(5072.88,0.15),(5072.98,0.06),(5073.08,0.05),(5073.18,0.02),(5073.28,0.06),(5073.38,0.03),(5073.48,0.07),(5073.58,0.02),(5073.68,-0.02),(5073.78,0.04),(5073.88,0.02),(5073.98,0.06),(5074.08,0.04),(5074.18,0.07),(5074.28,0.05),(5074.38,0.08),(5074.48,0.06),(5074.58,0.08),(5074.68,0.1),(5074.78,0.15),(5074.88,0.19),(5074.98,0.12),(5075.08,0.08),(5075.18,0.06),(5075.28,0.03),(5075.38,0.02),(5075.5,-0.02),(5075.62,0.04),(5075.74,0.02),(5075.86,0.05),(5075.98,0.01),(5076.1,0.04),(5076.22,0.02),(5076.34,0.06),(5076.46,0.03),(5076.58,0.05),(5076.7,0.01),(5076.82,0.04),(5076.94,0.02),(5077.06,0.06),(5077.18,0.03),(5077.3,0.05),(5077.42,0.02),(5077.54,0.04),(5077.66,0.01),(5077.78,0.05),(5077.9,0.02),(5078.02,0.04),(5078.14,0.0),(5078.26,0.05),(5078.38,0.03),(5078.5,0.04),(5078.62,0.01),(5078.74,0.03),(5078.86,0.0),(5078.98,0.04),(5079.1,0.02),(5079.22,0.03),(5079.34,-0.01),(5079.46,0.04),(5079.58,0.01),(5079.7,0.03),(5079.82,-0.02),(5079.94,0.02)]

# model fits (orange)
fits_p1 = [
 [(4849.0,0.6),(4849.1,0.55),(4849.3,0.68),(4849.5,0.75),(4849.7,0.7),(4849.85,0.55),(4849.95,0.38),(4850.04,0.6),(4850.12,0.5),(4850.2,0.25),(4850.32,0.45),(4850.55,0.62),(4850.8,0.68),(4851.1,0.76),(4851.4,0.88)],
 [(4868.5,0.25),(4868.65,0.45),(4868.9,0.58),(4869.2,0.66),(4869.45,0.72),(4869.6,0.72),(4869.72,0.6),(4869.85,0.1),(4870.0,0.47),(4870.15,0.08),(4870.35,0.3),(4870.55,0.1),(4870.8,0.02),(4871.2,0.02)],
 [(4872.9,0.0),(4873.5,0.0),(4873.9,0.02),(4874.1,0.2),(4874.3,0.28),(4874.5,0.2),(4874.75,0.3),(4874.95,0.05),(4875.1,0.58),(4875.3,0.05),(4875.55,0.72),(4875.8,0.66),(4876.1,0.7)],
]
fits_p2 = [
 [(4903.85,0.08),(4904.0,0.05),(4904.2,0.06),(4904.4,0.2),(4904.6,0.5),(4904.8,0.62),(4905.0,0.7),(4905.1,0.62),(4905.3,0.72),(4905.45,0.65),(4905.6,0.35),(4905.7,0.03),(4905.8,0.35),(4905.95,0.02),(4906.1,0.15),(4906.3,0.35),(4906.5,0.55),(4906.7,0.72),(4906.9,0.8),(4907.1,0.82),(4907.4,0.85),(4907.7,0.92),(4907.9,0.9),(4908.1,0.78),(4908.3,0.65),(4908.5,0.55),(4908.65,0.3),(4908.75,0.05),(4908.85,0.3),(4908.95,0.05),(4909.05,0.2),(4909.25,0.45),(4909.45,0.5),(4909.6,0.42),(4909.8,0.38),(4910.0,0.55),(4910.2,0.75),(4910.4,0.9)],
 [(4911.45,0.48),(4911.6,0.42),(4911.8,0.45),(4912.0,0.52),(4912.2,0.42),(4912.4,0.55),(4912.6,0.68),(4912.8,0.72),(4913.0,0.82),(4913.2,0.72),(4913.35,0.62),(4913.45,0.45),(4913.55,0.08),(4913.65,0.45),(4913.75,0.08),(4913.9,0.45),(4914.05,0.8),(4914.2,0.84),(4914.4,0.86),(4914.6,0.84),(4914.8,0.75),(4915.0,0.68),(4915.2,0.72),(4915.35,0.78)],
]
fits_p3 = [
 [(4925.25,0.75),(4925.35,0.55),(4925.45,0.35),(4925.6,0.32),(4925.7,0.3),(4925.78,0.18),(4925.85,0.38),(4925.95,0.3),(4926.05,0.14),(4926.15,0.25),(4926.3,0.42),(4926.45,0.45),(4926.6,0.4),(4926.75,0.33),(4926.9,0.38),(4927.05,0.45),(4927.2,0.48),(4927.4,0.46)],
 [(4941.95,0.58),(4942.1,0.55),(4942.25,0.5),(4942.35,0.3),(4942.45,0.1),(4942.55,0.25),(4942.65,0.1),(4942.8,0.15),(4942.95,0.3),(4943.1,0.35),(4943.25,0.32),(4943.4,0.22),(4943.55,0.08),(4943.7,0.02),(4943.9,0.0),(4944.1,0.0),(4944.2,0.05),(4944.35,0.15),(4944.5,0.22),(4944.7,0.26),(4944.85,0.3),(4945.0,0.3)],
]
fits_p4 = [
 [(4969.6,0.3),(4969.8,0.31),(4970.0,0.35),(4970.2,0.4),(4970.4,0.5),(4970.6,0.6),(4970.75,0.62),(4970.85,0.58),(4970.95,0.7),(4971.05,0.72),(4971.15,0.45),(4971.22,0.15),(4971.3,0.2),(4971.38,0.4),(4971.46,0.2),(4971.55,0.07),(4971.65,0.2),(4971.8,0.45),(4971.95,0.52),(4972.1,0.52),(4972.3,0.58),(4972.5,0.65)],
 [(4995.0,0.35),(4995.15,0.12),(4995.3,0.0),(4995.6,-0.01),(4996.0,0.0),(4996.4,0.0),(4996.55,0.15),(4996.68,0.27),(4996.8,0.08),(4996.9,0.4),(4997.0,0.06),(4997.15,0.23),(4997.3,0.15),(4997.45,0.03),(4997.6,0.0),(4998.0,0.0),(4998.4,0.02),(4998.6,0.06),(4998.75,0.2),(4998.9,0.45),(4999.0,0.52)],
]
fits_p5 = [
 [(5007.1,0.4),(5007.3,0.32),(5007.5,0.31),(5007.7,0.4),(5007.9,0.55),(5008.1,0.68),(5008.3,0.78),(5008.5,0.82),(5008.7,0.8),(5008.85,0.72),(5009.0,0.68),(5009.15,0.72),(5009.25,0.55),(5009.32,0.25),(5009.4,0.65),(5009.5,0.4),(5009.6,0.17),(5009.7,0.35),(5009.85,0.45),(5010.0,0.38),(5010.15,0.3),(5010.3,0.32),(5010.5,0.42),(5010.7,0.5),(5010.9,0.57),(5011.1,0.6)],
 [(5015.8,1.0),(5016.0,1.0),(5016.15,0.9),(5016.3,1.0),(5016.6,1.0),(5016.95,0.99),(5017.03,0.5),(5017.12,0.75),(5017.25,0.55),(5017.32,0.25),(5017.42,0.55),(5017.55,0.75),(5017.75,0.82),(5017.95,0.78),(5018.15,0.65),(5018.35,0.48),(5018.5,0.45),(5018.7,0.55),(5018.9,0.62),(5019.1,0.72),(5019.3,0.8)],
 [(5032.5,0.8),(5032.7,0.78),(5032.9,0.8),(5033.1,0.74),(5033.3,0.7),(5033.45,0.62),(5033.55,0.05),(5033.72,0.4),(5033.85,0.05),(5034.1,0.4),(5034.25,0.05),(5034.5,0.0),(5034.7,0.0),(5034.9,0.03),(5035.1,0.08),(5035.3,0.07),(5035.5,0.04),(5035.7,0.04),(5035.9,0.08),(5036.1,0.2),(5036.3,0.35),(5036.5,0.47),(5036.7,0.48),(5036.9,0.45),(5037.05,0.35),(5037.15,0.05),(5037.28,0.3),(5037.4,0.05),(5037.55,0.35),(5037.7,0.55),(5037.9,0.57),(5038.1,0.52),(5038.3,0.45),(5038.5,0.3),(5038.7,0.12),(5038.9,0.05),(5039.1,0.08),(5039.3,0.25),(5039.5,0.42)],
]
fits_p6 = [
 [(5042.9,0.72),(5043.1,0.55),(5043.3,0.42),(5043.5,0.3),(5043.65,0.2),(5043.8,0.22),(5043.95,0.4),(5044.1,0.65),(5044.25,0.72),(5044.4,0.65),(5044.6,0.5),(5044.75,0.48),(5044.9,0.58),(5044.98,0.4),(5045.05,0.1),(5045.13,0.35),(5045.22,0.1),(5045.35,0.05),(5045.5,0.1),(5045.65,0.02),(5045.9,0.0),(5046.3,0.0),(5046.7,0.0),(5046.95,0.05),(5047.1,0.35),(5047.25,0.45),(5047.35,0.1),(5047.45,0.1),(5047.55,0.4),(5047.65,0.05),(5047.8,0.15),(5048.0,0.35),(5048.2,0.55),(5048.4,0.75),(5048.6,0.9),(5048.8,0.96),(5049.0,0.98),(5049.3,1.0),(5049.6,0.98),(5049.85,0.95),(5050.0,0.85),(5050.12,0.35),(5050.22,0.65),(5050.32,0.35),(5050.42,0.15),(5050.55,0.35),(5050.7,0.4),(5050.9,0.4),(5051.1,0.42),(5051.3,0.48),(5051.5,0.55),(5051.7,0.56),(5051.9,0.62),(5052.1,0.7),(5052.3,0.76),(5052.5,0.62),(5052.65,0.35),(5052.8,0.08),(5052.95,0.0),(5053.1,0.05),(5053.2,0.1),(5053.3,0.03),(5053.45,0.2),(5053.6,0.45),(5053.8,0.7),(5054.0,0.87),(5054.2,0.88),(5054.4,0.9),(5054.55,0.8),(5054.7,0.6),(5054.8,0.25),(5054.9,0.05),(5055.0,0.25),(5055.1,0.05),(5055.25,0.1),(5055.4,0.4),(5055.55,0.6),(5055.7,0.68),(5055.85,0.62),(5056.0,0.55),(5056.2,0.58),(5056.4,0.78),(5056.6,0.85),(5056.8,0.8),(5057.0,0.88),(5057.25,1.0),(5057.5,1.02),(5057.75,1.0),(5057.9,0.95),(5057.98,0.2),(5058.08,0.75),(5058.18,0.5),(5058.28,0.15),(5058.4,0.5),(5058.55,0.9),(5058.7,0.87),(5058.9,0.82),(5059.1,0.78),(5059.3,0.75)],
 [(5060.15,0.4),(5060.35,0.35),(5060.55,0.45),(5060.75,0.6),(5060.95,0.78),(5061.15,0.9),(5061.35,0.96),(5061.55,0.9),(5061.75,0.72),(5061.85,0.4),(5061.95,0.1),(5062.1,0.07),(5062.25,0.02),(5062.4,0.02),(5062.55,0.2),(5062.7,0.55),(5062.85,0.75),(5063.0,0.78),(5063.2,0.65),(5063.4,0.5),(5063.6,0.35),(5063.8,0.2),(5064.0,0.16),(5064.2,0.2),(5064.45,0.4)],
 [(5067.8,0.5),(5068.0,0.3),(5068.2,0.2),(5068.45,0.18),(5068.7,0.3),(5068.95,0.6),(5069.2,0.85),(5069.45,0.98),(5069.65,1.0),(5069.78,0.95),(5069.85,0.2),(5069.95,0.46),(5070.08,0.04),(5070.2,0.1),(5070.4,0.25),(5070.6,0.36),(5070.8,0.38),(5071.0,0.3),(5071.2,0.18),(5071.35,0.12),(5071.5,0.2),(5071.7,0.45),(5071.9,0.65),(5072.0,0.72)],
]

# line-identification marks
marks_p1 = [4842.5,4842.8,4843.0,4849.9,4850.2,4850.4,4855.6,4855.9,4856.1,4856.4,4856.7,4856.9,4860.4,4860.7,4860.8,4861.1,4861.35,4861.5,4863.6,4863.9,4864.1,4866.1,4866.35,4866.5,4867.1,4867.35,4867.45,4867.55,4867.65,4867.8,4867.9,4868.0,4869.9,4870.2,4870.3,4871.6,4871.9,4872.1,4874.6,4874.9,4874.95,4875.0,4875.25,4875.4,4876.7,4877.0,4877.2,4877.85,4878.1,4878.3,4879.7]
marks_p2 = [4880.08,4883.1,4883.35,4883.55,4887.2,4887.5,4887.65,4889.2,4889.5,4889.65,4893.9,4894.2,4894.3,4897.5,4897.8,4897.95,4902.3,4902.6,4902.75,4903.65,4903.95,4904.1,4905.7,4906.0,4906.2,4908.8,4909.1,4909.2,4912.3,4912.6,4912.7,4913.5,4913.8,4914.0,4918.6,4918.9,4919.1]
marks_p3 = [4925.8,4926.05,4926.2,4932.95,4933.2,4933.35,4942.3,4942.5,4942.6,4942.7,4942.8,4942.95,4943.65,4943.85,4943.95,4944.1,4944.2,4944.3,4946.75,4947.0,4947.2,4947.45,4947.75,4947.85,4949.1,4949.35,4949.55,4949.8,4950.0,4951.5,4951.8,4951.9,4954.3,4954.5,4954.6,4954.7,4954.8,4954.9,4955.0,4955.3,4955.55,4955.75,4959.1,4959.45,4959.6]
marks_p4 = [4960.55,4960.8,4960.95,4964.2,4964.5,4964.55,4964.7,4964.95,4965.1,4966.8,4967.1,4967.25,4971.3,4971.6,4971.7,4974.4,4974.7,4974.9,4976.95,4977.25,4977.35,4983.45,4983.75,4983.9,4985.6,4985.9,4985.95,4986.1,4986.2,4986.35,4989.0,4989.3,4989.4,4992.35,4992.65,4992.75,4993.1,4993.4,4993.55,4996.9,4997.2,4997.35]
marks_p5 = [5002.5,5002.8,5002.95,5009.25,5009.55,5009.7,5017.1,5017.4,5017.55,5026.0,5026.3,5026.45,5030.3,5030.6,5030.75,5033.6,5033.9,5034.05,5036.1,5036.4,5036.55,5037.25,5037.55,5037.7]
marks_p6 = [5040.8,5041.1,5041.2,5041.3,5041.4,5041.5,5041.6,5041.7,5045.05,5045.35,5045.5,5046.6,5046.9,5047.1,5047.55,5047.85,5048.0,5050.2,5050.5,5050.65,5052.8,5053.1,5053.25,5054.9,5055.15,5055.3,5058.1,5058.35,5058.55,5060.03,5060.3,5060.5,5062.05,5062.3,5062.4,5062.5,5062.6,5062.7,5070.0,5070.25,5070.4,5071.4,5071.65,5071.85,5074.25,5074.55,5074.7,5077.35,5077.65,5077.85]

# normalised residuals (start wavelength, end wavelength, values)
resid_p1 = [
 (4849.0, 4851.5, [0.3,-0.5,0.8,-0.2,0.6,-1.0,0.4,-2.2,1.2,-0.6,0.5,-0.3,0.9,-0.4,0.2,-0.7,0.5]),
 (4868.4, 4871.2, [0.4,-0.3,0.7,-0.6,0.2,0.9,-0.4,0.5,-0.8,0.3,0.6,-0.5,1.0,-0.2,0.4,-0.7,0.3,0.8,-0.3]),
 (4872.9, 4876.1, [-0.2,0.5,-0.6,0.3,0.8,-0.4,0.2,1.1,-0.9,0.4,-1.5,2.0,-2.3,0.7,-0.5,0.9,-0.3,0.6,-0.8,0.4,0.2,-0.4]),
]
resid_p2 = [
 (4903.8, 4910.45, [0.3,-0.6,0.5,0.9,-0.3,0.4,-0.8,0.6,0.2,-0.4,0.7,-0.2,2.6,-1.0,0.5,0.8,-0.5,1.1,-0.7,0.3,0.9,-0.4,0.6,-0.9,0.2,1.0,-0.3,0.5,-0.6,0.8,0.1,-0.5,0.7,-0.2,0.4,-0.7,0.6,0.3,-0.4,0.8,-0.6,0.2,0.5,-0.3,0.4]),
 (4911.45, 4915.3, [0.5,-0.4,0.3,0.8,-0.6,0.2,0.6,-0.3,0.9,-0.5,0.4,-0.2,0.7,-0.8,0.3,1.2,-2.1,0.6,-0.4,0.5,0.2,-0.6,0.8,-0.3,0.4,0.1]),
]
resid_p3 = [
 (4925.25, 4927.45, [0.4,-0.6,0.8,-0.3,0.5,-0.9,0.6,0.2,-0.5,0.9,-0.2,0.4,-0.7,0.3,0.6]),
 (4941.95, 4945.0, [0.3,-0.5,0.6,2.8,-1.8,0.9,-0.6,0.4,1.0,-0.8,0.5,-0.3,0.7,-1.2,0.4,0.8,-0.4,0.3,-0.6,0.5,0.2]),
]
resid_p4 = [
 (4969.6, 4972.4, [0.5,-0.4,0.7,-0.2,0.4,-0.7,0.9,-0.3,0.6,-0.8,0.3,1.0,-0.5,0.4,-0.2,0.7,-0.6,0.3,0.5]),
 (4995.0, 4999.2, [0.4,-0.5,0.3,-0.8,0.6,0.2,-0.4,0.7,-0.9,0.5,0.3,-0.6,0.8,-0.3,0.4,1.1,-0.7,0.2,0.6,-0.5,0.9,-0.4,0.3,0.7,-0.6,0.4,-0.2,0.5,0.3]),
]
resid_p5 = [
 (5007.2, 5011.1, [0.3,-0.6,0.5,0.8,-0.4,0.2,-0.7,0.6,0.4,-0.3,0.9,-0.8,0.5,-0.2,0.7,-0.5,0.3,0.6,-0.9,0.4,-0.3,0.8,0.2,-0.5,0.6,-0.2,0.4]),
 (5015.7, 5019.35, [0.4,-0.3,0.7,-0.6,0.5,0.2,-0.8,0.6,-0.4,1.0,-0.5,0.3,0.8,-0.7,0.4,-0.2,0.6,-0.4,0.3,0.7,-0.5,0.2,0.5,-0.3,0.4]),
 (5032.3, 5039.4, [0.5,-0.4,0.8,-0.6,0.3,0.6,-0.8,0.4,-1.1,0.9,-0.5,0.7,-0.3,1.4,-1.6,0.5,-0.2,0.6,0.3,-0.5,0.8,-0.4,0.6,0.2,-0.7,0.9,-0.3,0.5,-0.6,0.4,0.8,-0.5,0.3,-0.8,0.6,0.2,-0.4,0.9,-0.6,0.4,0.7,-0.3,0.5,-0.5,0.3,0.6,-0.2,0.4]),
]
resid_p6 = [
 (5042.9, 5059.3, [0.4,-0.5,0.7,-0.3,0.6,-0.8,0.2,0.9,-0.4,0.5,-0.6,0.3,0.8,-0.2,0.5,-0.7,0.4,-0.3,0.6,0.2,-0.5,0.7,-0.4,0.3,-1.0,2.9,-0.8,0.4,0.6,-0.5,0.3,-2.4,0.8,-0.3,0.5,-0.6,0.7,0.2,-0.4,0.6,-0.5,0.9,-0.3,0.4,-0.7,0.5,0.3,-0.6,0.8,-0.2,0.4,-0.5,0.7,-0.3,0.6,0.2,-0.8,0.5,-0.4,0.9,-0.6,0.3,0.5,-0.3,0.7,-0.5,0.4,-0.2,0.8,-0.7,0.3,0.6,-0.4,0.5,-0.3,0.7,0.2,-0.6,0.4,-0.5,0.8,-0.3,0.5,-0.7,0.6,0.3,-0.4,0.9,-0.5,0.4,-0.2,0.6,-0.6,0.3,0.7,-0.4,0.5,-0.3,0.8,-0.5,0.2,0.6,-0.7,0.4,-0.3,0.5,0.3,-0.6,0.7,-0.2]),
 (5060.1, 5064.5, [0.5,-0.4,0.3,0.8,-0.6,0.4,-0.2,0.7,-0.5,0.3,0.6,-0.8,0.4,-0.3,0.9,-0.4,0.2,0.6,-0.5,0.4,-0.7,0.5,0.3,-0.4,0.8,-0.2,0.5,-0.6,0.3,0.4]),
 (5067.6, 5071.9, [0.3,-0.5,0.6,-0.3,0.8,-0.6,0.4,0.2,-0.7,0.5,-0.4,0.9,-0.5,0.3,0.6,-0.4,0.8,-0.3,0.5,-2.6,0.4,0.7,-0.4,0.3,-0.5,0.6,0.2,-0.3,0.4]),
]

# ---------------- STYLE / LAYOUT ----------------
W, H = 1100, 1550
OFF = 8                      # page body margin of the html page
PX_L, PX_R = 70 - OFF, 1062 - OFF
FIT_COLOR = "#D8A21A"
FONT = "DejaVu Sans"

panels = [
    (spec_p1, fits_p1, marks_p1, resid_p1),
    (spec_p2, fits_p2, marks_p2, resid_p2),
    (spec_p3, fits_p3, marks_p3, resid_p3),
    (spec_p4, fits_p4, marks_p4, resid_p4),
    (spec_p5, fits_p5, marks_p5, resid_p5),
    (spec_p6, fits_p6, marks_p6, resid_p6),
]

fig = go.Figure()
layout = dict(
    width=W, height=H, margin=dict(l=0, r=0, t=0, b=0, autoexpand=False),
    paper_bgcolor="white", plot_bgcolor="white", showlegend=False,
    font=dict(family=FONT, size=15, color="black"),
)

def ax_name(i):
    return ("xaxis" if i == 1 else f"xaxis{i}"), ("yaxis" if i == 1 else f"yaxis{i}")

def ref(i):
    return ("x" if i == 1 else f"x{i}"), ("y" if i == 1 else f"y{i}")

xdom = [PX_L / W, PX_R / W]

def ydom(top_px, bot_px):
    return [1 - (bot_px - OFF) / H, 1 - (top_px - OFF) / H]

for k, (spec, fits, marks, resid) in enumerate(panels):
    x0 = panel_starts[k]
    x1 = x0 + 40
    top_r, bot_r = 15 + 250 * k, 55 + 250 * k
    top_m, bot_m = 90 + 250 * k, 228 + 250 * k
    ri, mi = 2 * k + 1, 2 * k + 2
    rx, ry = ref(ri)
    mx, my = ref(mi)

    # residual panel
    xn, yn = ax_name(ri)
    layout[xn] = dict(domain=xdom, range=[x0, x1], anchor=ry, showticklabels=False,
                      ticks="", showgrid=False, zeroline=False, showline=True, automargin=False,
                      mirror=True, linecolor="black", linewidth=1.2)
    layout[yn] = dict(domain=ydom(top_r, bot_r), range=[-3, 3], anchor=rx,
                      tickvals=[1, -1], ticktext=["+1<i>σ</i>", "−1<i>σ</i>"], ticks="",
                      tickfont=dict(family="DejaVu Serif", size=14), automargin=False,
                      showgrid=False, zeroline=False, showline=True, mirror=True,
                      linecolor="black", linewidth=1.2)
    for lvl in (1, -1):
        fig.add_trace(go.Scatter(x=[x0, x1], y=[lvl, lvl], mode="lines", xaxis=rx, yaxis=ry,
                                 line=dict(color="black", width=1.1, dash="dash"), hoverinfo="skip"))
    for (s, e, vals) in resid:
        n = len(vals)
        xs = [s + i * (e - s) / (n - 1) for i in range(n)]
        fig.add_trace(go.Scatter(x=xs, y=vals, mode="lines", xaxis=rx, yaxis=ry,
                                 line=dict(color="black", width=1.2), hoverinfo="skip"))

    # main panel
    xn, yn = ax_name(mi)
    xt = list(range(x0, x1 + 1, 5))
    layout[xn] = dict(domain=xdom, range=[x0, x1], anchor=my, tickvals=xt,
                      ticktext=[str(v) for v in xt], ticks="inside", ticklen=5,
                      tickcolor="black", mirror="ticks", showline=True, linecolor="black",
                      linewidth=1.2, showgrid=False, zeroline=False, automargin=False,
                      tickfont=dict(family=FONT, size=15))
    layout[yn] = dict(domain=ydom(top_m, bot_m), range=[-0.09, 1.11], anchor=mx,
                      tickvals=flux_ticks, ticktext=["0.0", "0.5", "1.0"], ticks="inside",
                      ticklen=5, tickcolor="black", mirror="ticks", showline=True,
                      linecolor="black", linewidth=1.2, showgrid=False, zeroline=False,
                      automargin=False, tickfont=dict(family=FONT, size=15),
                      title=dict(text="Norm. flux", font=dict(family=FONT, size=15), standoff=8))
    if k == 5:
        layout[xn]["title"] = dict(text="Wavelength [Å]", font=dict(family=FONT, size=15), standoff=12)

    sx = [p[0] for p in spec]
    sy = [p[1] for p in spec]
    fig.add_trace(go.Scatter(x=sx, y=sy, mode="lines", xaxis=mx, yaxis=my,
                             line=dict(color="black", width=2.0), hoverinfo="skip"))
    for f in fits:
        fig.add_trace(go.Scatter(x=[p[0] for p in f], y=[p[1] for p in f], mode="lines",
                                 xaxis=mx, yaxis=my,
                                 line=dict(color=FIT_COLOR, width=2.2, shape="spline", smoothing=0.8),
                                 hoverinfo="skip"))
    mxs, mys = [], []
    for m in marks:
        mxs += [m, m, None]
        mys += [0.86, 1.06, None]
    fig.add_trace(go.Scatter(x=mxs, y=mys, mode="lines", xaxis=mx, yaxis=my,
                             line=dict(color=FIT_COLOR, width=1.6), hoverinfo="skip"))

fig.update_layout(**layout)
fig.write_html("out.html")
